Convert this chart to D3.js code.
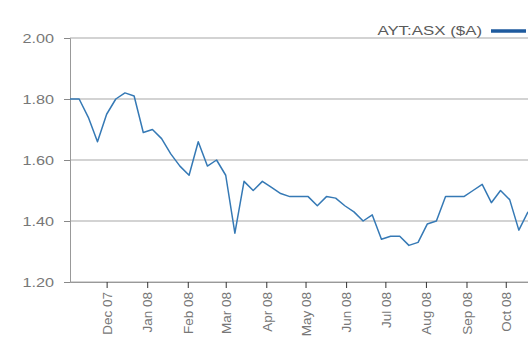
<!DOCTYPE html>
<html lang="en">
  <head>
    <meta charset="UTF-8" />
    <title>AYT:ASX share price</title>
    <script src="https://d3js.org/d3.v7.min.js"></script>
    <style>
      body { margin: 0; background: #fff; }
      svg { display: block; font-family: Arial, "Liberation Sans", sans-serif; }
      .tick text { fill: #777; font-size: 13px; }
    </style>
  </head>
  <body>
    <svg id="chart" width="528" height="340"></svg>

    <script>
      // weekly closing prices
      const weeks = [
        "2007-11-03", "2007-11-10", "2007-11-17", "2007-11-24",
        "2007-12-01", "2007-12-08", "2007-12-15", "2007-12-22", "2007-12-29",
        "2008-01-05", "2008-01-12", "2008-01-19", "2008-01-26",
        "2008-02-02", "2008-02-09", "2008-02-16", "2008-02-23",
        "2008-03-01", "2008-03-08", "2008-03-15", "2008-03-22", "2008-03-29",
        "2008-04-05", "2008-04-12", "2008-04-19", "2008-04-26",
        "2008-05-03", "2008-05-10", "2008-05-17", "2008-05-24", "2008-05-31",
        "2008-06-07", "2008-06-14", "2008-06-21", "2008-06-28",
        "2008-07-05", "2008-07-12", "2008-07-19", "2008-07-26",
        "2008-08-02", "2008-08-09", "2008-08-16", "2008-08-23", "2008-08-30",
        "2008-09-06", "2008-09-13", "2008-09-20", "2008-09-27",
        "2008-10-04", "2008-10-11", "2008-10-18"
      ];
      const prices = [
        1.80, 1.80, 1.74, 1.66,
        1.75, 1.80, 1.82, 1.81, 1.69,
        1.70, 1.67, 1.62, 1.58,
        1.55, 1.66, 1.58, 1.60,
        1.55, 1.36, 1.53, 1.50, 1.53,
        1.51, 1.49, 1.48, 1.48,
        1.48, 1.45, 1.48, 1.475, 1.45,
        1.43, 1.40, 1.42, 1.34,
        1.35, 1.35, 1.32, 1.33,
        1.39, 1.40, 1.48, 1.48, 1.48,
        1.50, 1.52, 1.46, 1.50,
        1.47, 1.37, 1.43
      ];
      const yTicks = [1.2, 1.4, 1.6, 1.8, 2.0];
      const seriesName = "AYT:ASX ($A)";

      const parse = d3.timeParse("%Y-%m-%d");
      const data = weeks.map((w, i) => ({ date: parse(w), value: prices[i] }));

      const svg = d3.select("#chart");
      const plotLeft = 70, plotRight = 528, plotTop = 38, plotBottom = 282;
      const stretch = 1.25; // labels in the original are a bit wide

      const x = d3
        .scaleTime()
        .domain([parse("2007-11-03"), parse("2008-10-18")])
        .range([plotLeft, plotRight]);
      const y = d3.scaleLinear().domain([1.2, 2.0]).range([plotBottom, plotTop]);

      // gridlines
      svg
        .append("g")
        .selectAll("line")
        .data(yTicks)
        .join("line")
        .attr("x1", plotLeft)
        .attr("x2", plotRight)
        .attr("y1", (d) => y(d))
        .attr("y2", (d) => y(d))
        .attr("stroke", "#c4c4c4")
        .attr("stroke-width", 1.5);

      // y axis
      const yAxis = svg
        .append("g")
        .attr("transform", `translate(${plotLeft},0)`)
        .call(
          d3.axisLeft(y).tickValues(yTicks).tickSize(6)
            .tickFormat(d3.format(".2f"))
        );
      yAxis.select(".domain").attr("stroke", "#999");
      yAxis.selectAll(".tick line").attr("stroke", "#888");
      yAxis
        .selectAll(".tick text")
        .attr("x", 0)
        .attr("dy", "0.35em")
        .attr("transform", `translate(-16,0) scale(${stretch},1)`);

      // x axis
      const xAxis = svg
        .append("g")
        .attr("transform", `translate(0,${plotBottom})`)
        .call(
          d3.axisBottom(x).ticks(d3.timeMonth.every(1)).tickSize(6)
            .tickSizeOuter(0).tickFormat(d3.timeFormat("%b %y"))
        );
      xAxis.select(".domain").attr("stroke", "#999");
      xAxis.selectAll(".tick line").attr("stroke", "#333");
      xAxis
        .selectAll(".tick text")
        .attr("transform", "rotate(-90)")
        .attr("text-anchor", "end")
        .attr("x", -10)
        .attr("y", 0)
        .attr("dy", "0.35em")
        .style("font-size", "13.5px");

      // price line
      const line = d3
        .line()
        .x((d) => x(d.date))
        .y((d) => y(d.value));

      svg
        .append("path")
        .datum(data)
        .attr("fill", "none")
        .attr("stroke", "#3579b5")
        .attr("stroke-width", 1.5)
        .attr("stroke-linejoin", "round")
        .attr("d", line);

      // legend
      const legend = svg.append("g").attr("transform", "translate(482,30)");
      legend
        .append("text")
        .attr("text-anchor", "end")
        .attr("dy", "0.35em")
        .attr("fill", "#5a5a5a")
        .attr("transform", `scale(${stretch},1)`)
        .style("font-size", "13.5px")
        .text(seriesName);
      legend
        .append("line")
        .attr("x1", 9)
        .attr("x2", 44)
        .attr("y1", 1)
        .attr("y2", 1)
        .attr("stroke", "#1e5a9e")
        .attr("stroke-width", 3.5);
    </script>
  </body>
</html>
